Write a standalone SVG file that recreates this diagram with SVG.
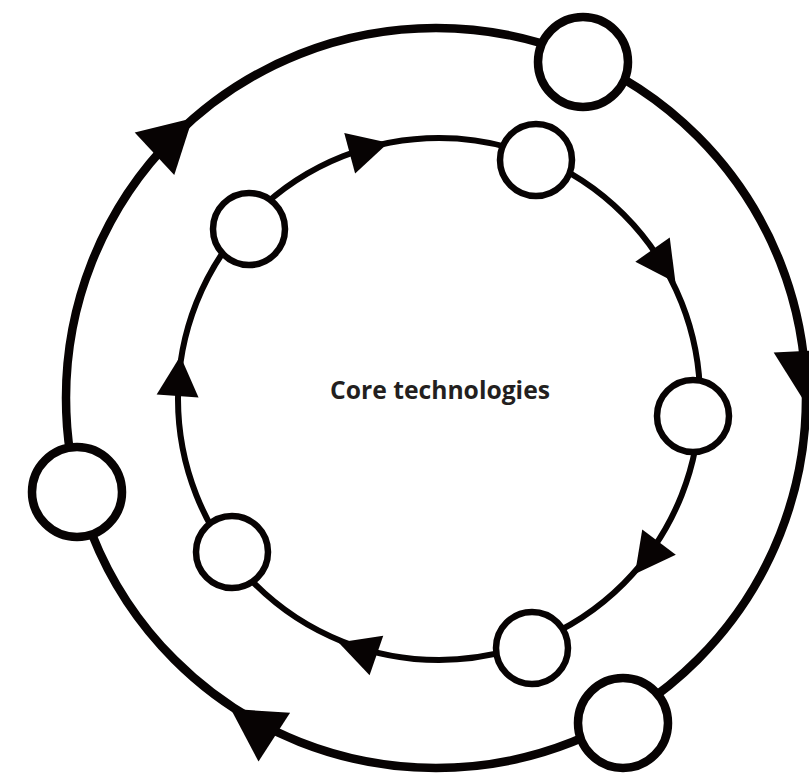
<svg xmlns="http://www.w3.org/2000/svg" xmlns:xlink="http://www.w3.org/1999/xlink" width="809" height="774" viewBox="0 0 809 774">
  <style>
    .ring-outer { fill: none; stroke: #070303; stroke-width: 8.5; }
    .ring-inner { fill: none; stroke: #070303; stroke-width: 6; }
    .node-outer { fill: #ffffff; stroke: #070303; stroke-width: 8.5; }
    .node-inner { fill: #ffffff; stroke: #070303; stroke-width: 6.5; }
    .arrow { fill: #070303; stroke: none; }
    .label { font-family: "Open Sans", "Liberation Sans", sans-serif; font-weight: 700; font-size: 25px; fill: #231f20; }
  </style>
  <defs>
    <polygon id="arrowOuter" class="arrow" points="26,0 -26,-29 -26,29"/>
    <polygon id="arrowInner" class="arrow" points="20,0 -20,-21 -20,21"/>
  </defs>
  <rect width="809" height="774" fill="#ffffff"/>

  <g id="connectors">
    <circle class="ring-outer" cx="436" cy="398" r="370"/>
    <circle class="ring-inner" cx="439" cy="399" r="261"/>
    <use xlink:href="#arrowOuter" href="#arrowOuter" transform="translate(173.5,136) rotate(-43)"/>
    <use xlink:href="#arrowOuter" href="#arrowOuter" transform="translate(804,377) rotate(87)"/>
    <use xlink:href="#arrowOuter" href="#arrowOuter" transform="translate(252.5,723) rotate(213)"/>
    <use xlink:href="#arrowInner" href="#arrowInner" transform="translate(369,148) rotate(-15)"/>
    <use xlink:href="#arrowInner" href="#arrowInner" transform="translate(664,266) rotate(55)"/>
    <use xlink:href="#arrowInner" href="#arrowInner" transform="translate(647,558) rotate(127)"/>
    <use xlink:href="#arrowInner" href="#arrowInner" transform="translate(357.5,649) rotate(199)"/>
    <use xlink:href="#arrowInner" href="#arrowInner" transform="translate(179,376) rotate(-86)"/>
  </g>

  <g id="node-outer-top"><circle class="node-outer" cx="583" cy="62" r="45"/></g>
  <g id="node-outer-left"><circle class="node-outer" cx="77" cy="492" r="45"/></g>
  <g id="node-outer-bottom"><circle class="node-outer" cx="623" cy="723" r="45"/></g>

  <g id="node-inner-topleft"><circle class="node-inner" cx="249" cy="229" r="36"/></g>
  <g id="node-inner-topright"><circle class="node-inner" cx="536" cy="160" r="36"/></g>
  <g id="node-inner-right"><circle class="node-inner" cx="693" cy="416" r="36"/></g>
  <g id="node-inner-bottomright"><circle class="node-inner" cx="532" cy="648" r="36"/></g>
  <g id="node-inner-bottomleft"><circle class="node-inner" cx="232" cy="552" r="36"/></g>

  <g id="center-label">
    <text class="label" x="440" y="399" text-anchor="middle" textLength="220" lengthAdjust="spacingAndGlyphs">Core technologies</text>
  </g>
</svg>
